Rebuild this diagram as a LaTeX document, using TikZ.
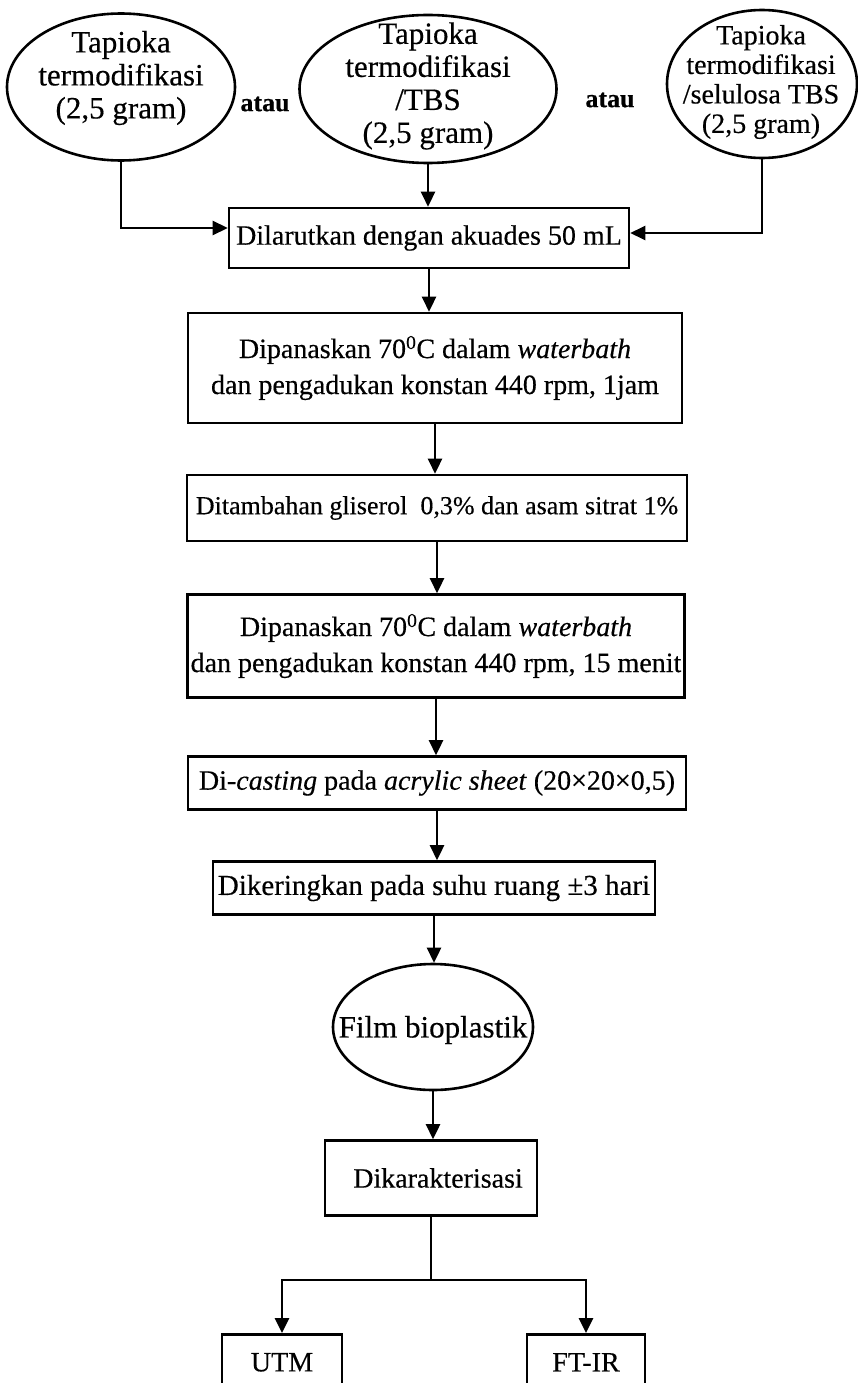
\documentclass[tikz,border=0pt]{standalone}
\usepackage{fontspec}
\setmainfont{Liberation Serif}[FakeBold=0.4]
\usetikzlibrary{shapes.geometric,arrows.meta}
\tikzset{
  box/.style={draw, line width=2.6pt, rectangle, inner sep=0pt, align=center, font=\fontsize{28}{36}\selectfont},
  ell/.style={draw, line width=2.6pt, ellipse, inner sep=0pt},
  etext/.style={align=center, inner sep=0pt, font=\fontsize{31}{33}\selectfont},
  etextsmall/.style={align=center, inner sep=0pt, font=\fontsize{28}{29.5}\selectfont},
  ortext/.style={inner sep=0pt, font=\fontsize{26}{30}\selectfont\bfseries},
  arr/.style={line width=2.6pt, -{Triangle[length=15pt,width=14pt]}},
  ln/.style={line width=2.6pt},
}
\begin{document}
\begin{tikzpicture}[x=1pt,y=-1pt]
\useasboundingbox (0,0) rectangle (858,1383);
\clip (0,0) rectangle (858,1383);
% top ellipses
\node[ell, minimum width=228, minimum height=147] (e1) at (121,87) {};
\node[etext] (e1t) at (121,78) {Tapioka\\termodifikasi\\(2,5 gram)};
\node[ortext] (or1) at (265,104) {atau};
\node[ell, minimum width=257, minimum height=148] (e2) at (428,89) {};
\node[etext] (e2t) at (428,86) {Tapioka\\termodifikasi\\/TBS\\(2,5 gram)};
\node[ortext] (or2) at (610,100) {atau};
\node[ell, minimum width=190, minimum height=148] (e3) at (762,84) {};
\node[etextsmall] (e3t) at (761,82) {Tapioka\\termodifikasi\\/selulosa TBS\\(2,5 gram)};
% process boxes
\node[box, minimum width=400, minimum height=60] (b1) at (429,238) {Dilarutkan dengan akuades 50 mL};
\node[box, minimum width=494, minimum height=110] (b2) at (435,368) {Dipanaskan 70\textsuperscript{0}C dalam \textit{waterbath}\\dan pengadukan konstan 440 rpm, 1jam};
\node[box, minimum width=500, minimum height=66, font=\fontsize{26}{32}\selectfont] (b3) at (437,508) {Ditambahan gliserol\ \ 0,3\% dan asam sitrat 1\%};
\node[box, minimum width=497, minimum height=103] (b4) at (436,646) {Dipanaskan 70\textsuperscript{0}C dalam \textit{waterbath}\\dan pengadukan konstan 440 rpm, 15 menit};
\node[box, minimum width=498, minimum height=53] (b5) at (437,783) {Di-\textit{casting} pada \textit{acrylic sheet} (20×20×0,5)};
\node[box, minimum width=442, minimum height=53, font=\fontsize{29}{34}\selectfont] (b6) at (434,888) {Dikeringkan pada suhu ruang ±3 hari};
\node[ell, minimum width=200, minimum height=126] (film) at (433,1027) {};
\node[etext] (filmt) at (433,1030) {Film bioplastik};
\node[box, minimum width=212, minimum height=75] (kar) at (431,1178) {\hspace*{14pt}Dikarakterisasi};
\coordinate (br) at (433,1280);
\node[box, minimum width=120, minimum height=56, anchor=north] (utm) at (282,1333) {UTM};
\node[box, minimum width=118, minimum height=56, anchor=north] (ftir) at (586,1333) {FT-IR};
% connectors
\draw[arr] (e1.south) |- ([yshift=10pt]b1.west);
\draw[arr] (e2.south) -- (e2.south |- b1.north);
\draw[arr] (e3.south) |- ([yshift=5pt]b1.east);
\draw[arr] (b1.south) -- (b1.south |- b2.north);
\draw[arr] (b2.south) -- (b2.south |- b3.north);
\draw[arr] (b3.south) -- (b3.south |- b4.north);
\draw[arr] (b4.south) -- (b4.south |- b5.north);
\draw[arr] (b5.south) -- (b5.south |- b6.north);
\draw[arr] (b6.south) -- (b6.south |- film.north);
\draw[arr] (film.south) -- (film.south |- kar.north);
\draw[ln] (kar.south) -- (kar.south |- br);
\draw[arr] (kar.south |- br) -| (utm.north);
\draw[arr] (kar.south |- br) -| (ftir.north);
\end{tikzpicture}
\end{document}
